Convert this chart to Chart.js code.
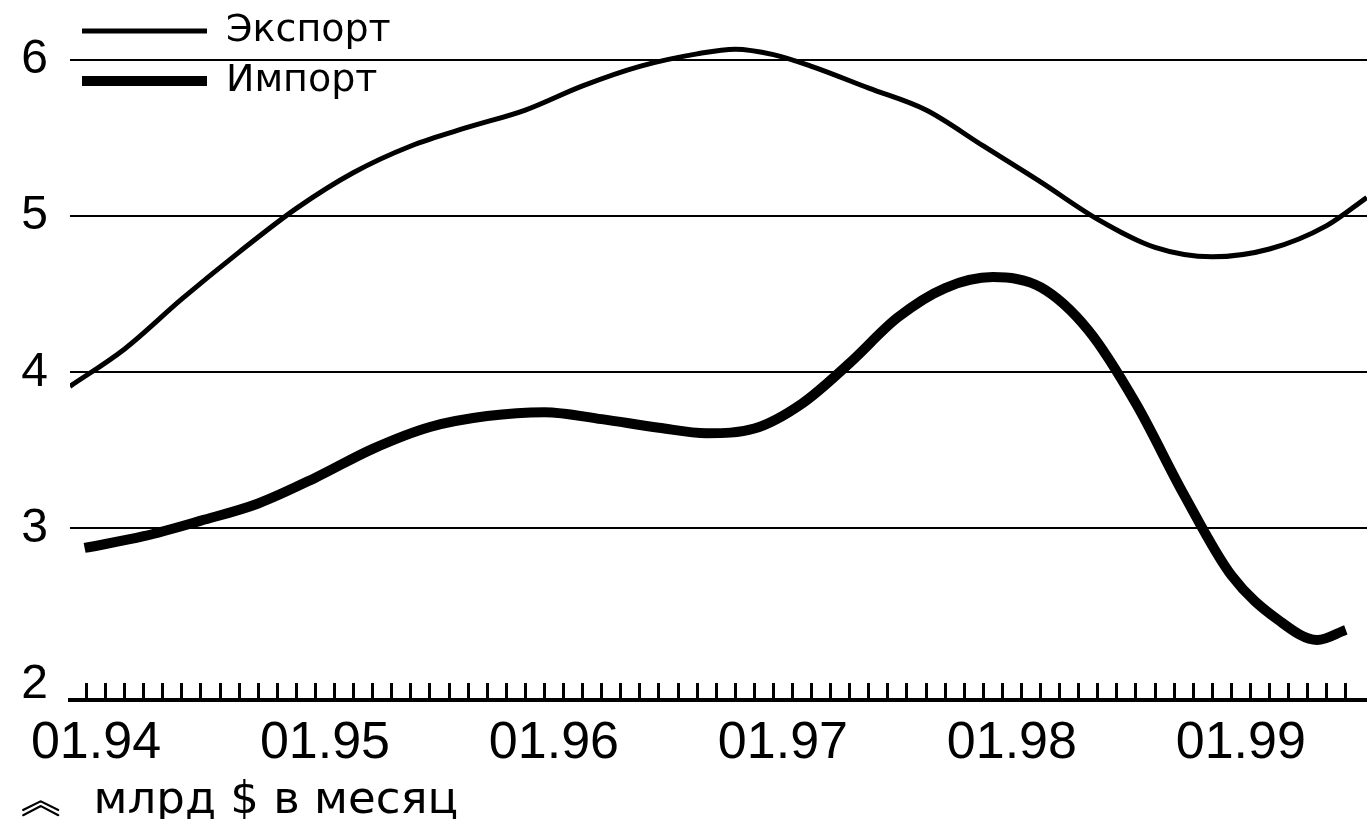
<!DOCTYPE html>
<html>
<head>
<meta charset="utf-8">
<script src="https://cdn.jsdelivr.net/npm/chart.js@4/dist/chart.umd.min.js"></script>
<style>
  html, body { margin: 0; padding: 0; background: #fff; }
  #wrap { width: 1367px; height: 819px; position: relative; }
</style>
</head>
<body>
<div id="wrap"><canvas id="c"></canvas></div>
<script>
// x = months since January 1994
const yearLabels = ['01.94', '01.95', '01.96', '01.97', '01.98', '01.99'];
const yTicks = [2, 3, 4, 5, 6];

const exportMonths = [-0.87, 2, 5, 8, 11, 14, 17, 20, 23, 26, 29, 32, 34, 36, 38, 41, 44, 47, 50, 53, 56, 59, 62, 65, 67.1];
const exportValues = [3.91, 4.15, 4.47, 4.77, 5.05, 5.28, 5.45, 5.57, 5.68, 5.835, 5.96, 6.04, 6.07, 6.035, 5.96, 5.82, 5.68, 5.45, 5.22, 4.98, 4.80, 4.74, 4.79, 4.94, 5.12];

const importMonths = [-0.1, 3, 6, 9, 12, 15, 18, 21, 24, 27, 30, 32.5, 35, 37.5, 40, 42.5, 45, 47.5, 50, 52.5, 55, 57.5, 60, 62.5, 64.5, 66];
const importValues = [2.875, 2.95, 3.05, 3.16, 3.325, 3.51, 3.65, 3.72, 3.745, 3.70, 3.645, 3.61, 3.64, 3.80, 4.06, 4.35, 4.54, 4.61, 4.545, 4.27, 3.80, 3.22, 2.70, 2.41, 2.285, 2.35];

const monthCount = 66;
const monthTicks = Array.from({length: monthCount + 1}, (_, i) => i);

const toPoints = (xs, ys) => xs.map((x, i) => ({x: x, y: ys[i]}));
const noScalePadding = (s) => { s.paddingTop = 0; s.paddingBottom = 0; s.paddingLeft = 0; s.paddingRight = 0; };

Chart.defaults.color = '#000';
Chart.defaults.font.family = 'Liberation Sans, Arial, sans-serif';

new Chart(document.getElementById('c'), {
  type: 'line',
  data: {
    datasets: [
      {
        label: 'Экспорт',
        data: toPoints(exportMonths, exportValues),
        borderColor: '#000',
        backgroundColor: '#000',
        borderWidth: 5,
        pointRadius: 0,
        pointStyle: 'line',
        cubicInterpolationMode: 'monotone',
        fill: false
      },
      {
        label: 'Импорт',
        data: toPoints(importMonths, importValues),
        borderColor: '#000',
        backgroundColor: '#000',
        borderWidth: 10,
        pointRadius: 0,
        pointStyle: 'line',
        cubicInterpolationMode: 'monotone',
        fill: false
      }
    ]
  },
  options: {
    responsive: true,
    maintainAspectRatio: false,
    animation: false,
    layout: { autoPadding: false, padding: { left: 20, right: 0, top: 0, bottom: 0 } },
    plugins: {
      legend: {
        position: 'chartArea',
        align: 'start',
        labels: {
          usePointStyle: true,
          pointStyleWidth: 125,
          padding: 12,
          color: '#000',
          font: { family: 'DejaVu Sans', size: 38 }
        }
      },
      title: {
        display: true,
        position: 'bottom',
        align: 'start',
        text: '︽  млрд $ в месяц',
        color: '#000',
        font: { family: 'DejaVu Sans', size: 45, weight: 'normal', lineHeight: 0.8 },
        padding: { top: 0, bottom: 0 }
      },
      tooltip: { enabled: false }
    },
    scales: {
      x: {
        type: 'linear',
        min: -0.865,
        max: 67.11,
        afterBuildTicks: (s) => { s.ticks = monthTicks.map(v => ({value: v})); },
        afterFit: (s) => { s.height = 83; noScalePadding(s); },
        border: { display: true, color: '#000', width: 4 },
        grid: {
          drawOnChartArea: false,
          drawTicks: true,
          tickLength: -17,
          tickWidth: 3,
          tickColor: '#000'
        },
        ticks: {
          autoSkip: false,
          maxRotation: 0,
          minRotation: 0,
          padding: 29,
          labelOffset: 9.5,
          color: '#000',
          font: { family: 'Liberation Sans', size: 52 },
          callback: (v) => (v % 12 === 0 ? yearLabels[v / 12] : '')
        }
      },
      y: {
        type: 'linear',
        min: 1.901,
        max: 6.385,
        afterBuildTicks: (s) => { s.ticks = yTicks.map(v => ({value: v})); },
        afterFit: (s) => { s.width = 50; noScalePadding(s); },
        border: { display: false },
        grid: {
          drawTicks: false,
          lineWidth: 2,
          color: (ctx) => (ctx.tick && ctx.tick.value === 2 ? 'rgba(0,0,0,0)' : '#000')
        },
        ticks: {
          padding: 22,
          color: '#000',
          font: { family: 'Liberation Sans', size: 48 }
        }
      }
    }
  }
});
</script>
</body>
</html>
